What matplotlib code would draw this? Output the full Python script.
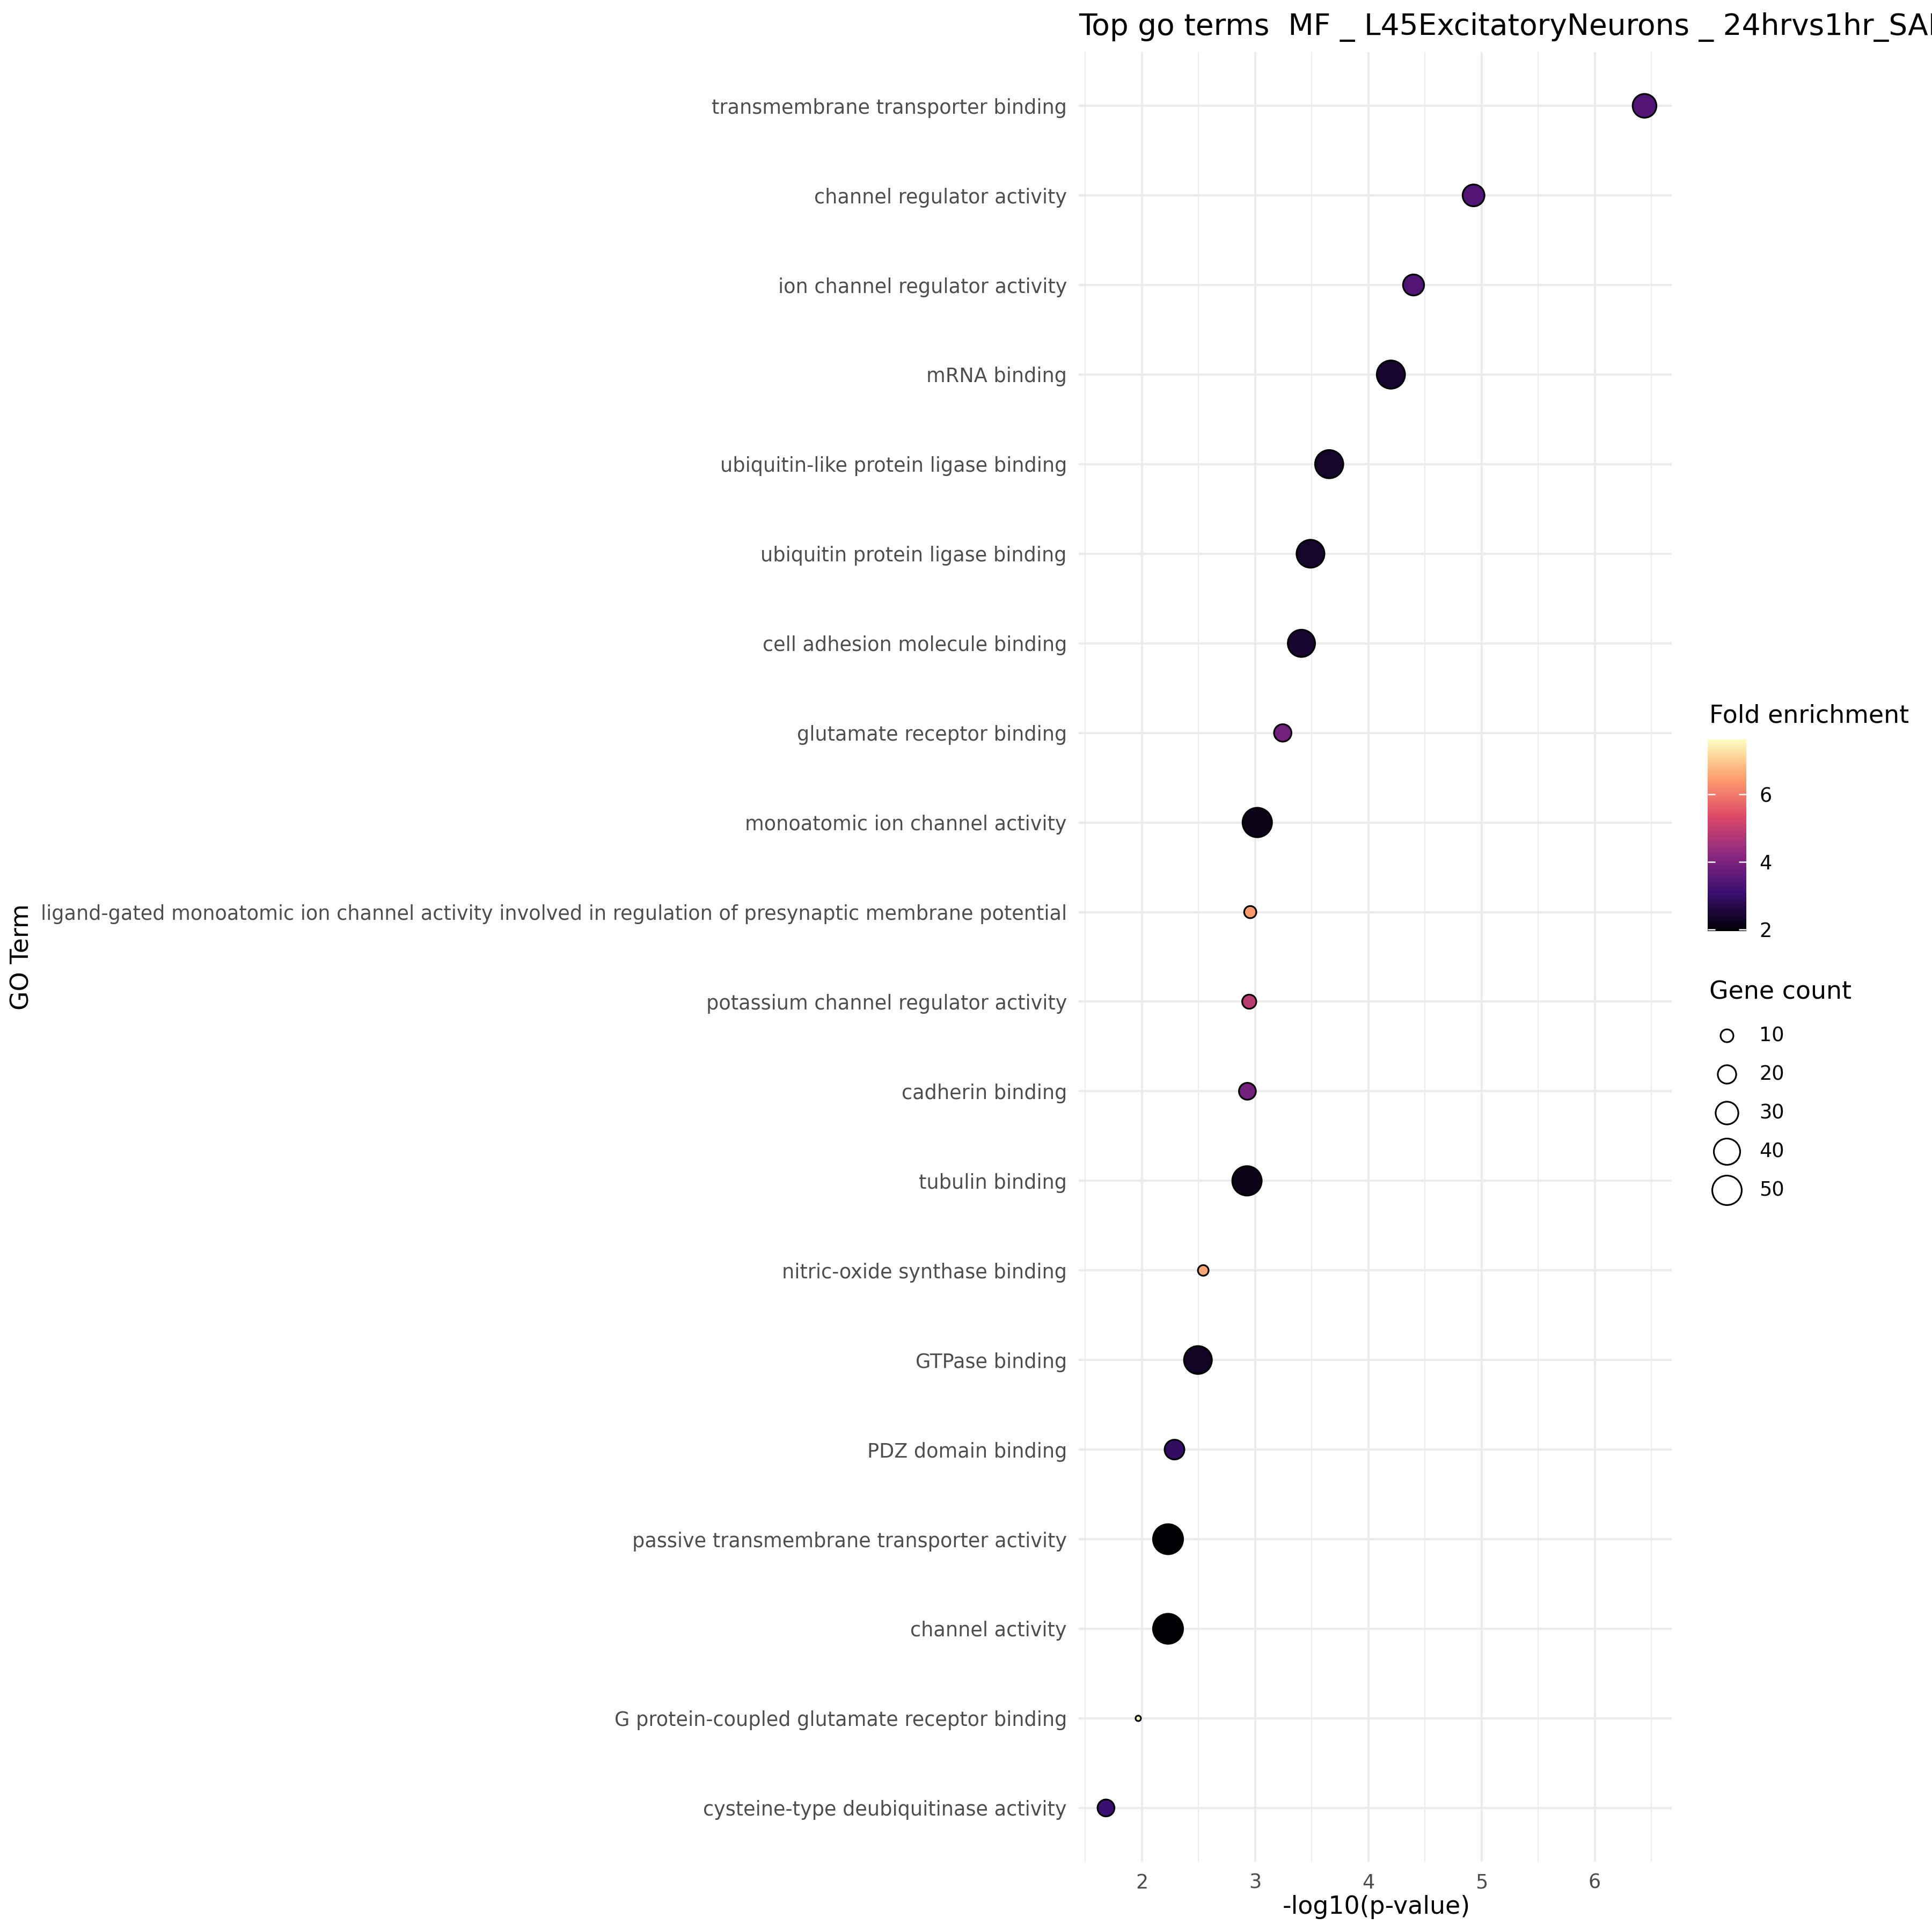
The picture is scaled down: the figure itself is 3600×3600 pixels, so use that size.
import numpy as np
import matplotlib
matplotlib.use("Agg")
from matplotlib import pyplot as plt
from matplotlib.colors import Normalize, LinearSegmentedColormap

# GO terms, top row first
terms = [
    "transmembrane transporter binding",
    "channel regulator activity",
    "ion channel regulator activity",
    "mRNA binding",
    "ubiquitin-like protein ligase binding",
    "ubiquitin protein ligase binding",
    "cell adhesion molecule binding",
    "glutamate receptor binding",
    "monoatomic ion channel activity",
    "ligand-gated monoatomic ion channel activity involved in regulation of presynaptic membrane potential",
    "potassium channel regulator activity",
    "cadherin binding",
    "tubulin binding",
    "nitric-oxide synthase binding",
    "GTPase binding",
    "PDZ domain binding",
    "passive transmembrane transporter activity",
    "channel activity",
    "G protein-coupled glutamate receptor binding",
    "cysteine-type deubiquitinase activity",
]
neg_log_p = [6.44, 4.93, 4.40, 4.20, 3.655, 3.49, 3.41, 3.245, 3.02, 2.958,
             2.949, 2.933, 2.929, 2.543, 2.496, 2.289, 2.232, 2.232, 1.969, 1.684]
fold_enrichment = [3.41, 3.41, 3.41, 2.43, 2.38, 2.38, 2.43, 3.84, 2.18, 6.42,
                   4.87, 3.84, 2.19, 6.57, 2.30, 2.93, 1.95, 1.97, 7.62, 3.08]
gene_count = [33, 28, 26, 46, 46, 45, 43, 18, 50, 9,
              12, 17, 50, 7, 45, 23, 52, 52, 2, 17]

size_breaks = [10, 20, 30, 40, 50]
cbar_ticks = [2, 4, 6]
x_ticks = [2, 3, 4, 5, 6]

# ggplot's viridis "magma" scale is a 6-colour gradient
magma6 = ["#000004", "#3B0F70", "#8C2981", "#DE4968", "#FE9F6D", "#FCFDBF"]

title = "Top go terms  MF _ L45ExcitatoryNeurons _ 24hrvs1hr_SAL"

W = 3600.0
DPI = 300
PX_PER_PT = DPI / 72.0
EDGE_PT = 0.75


def marker_area(count):
    d_px = 7.93 * np.sqrt(np.asarray(count, dtype=float)) + 1.93
    d_pt = (d_px - EDGE_PT * PX_PER_PT) / PX_PER_PT
    return d_pt ** 2


def fx(px):
    return px / W


def fy(px):
    return 1 - px / W


fig = plt.figure(figsize=(12, 12), dpi=DPI)
fig.patch.set_facecolor("white")

# panel
ax = fig.add_axes([fx(2010), fy(3469), fx(1105), 3372 / W])
for s in ax.spines.values():
    s.set_visible(False)

n = len(terms)
ypos = np.arange(n)[::-1]
norm = Normalize(vmin=1.95, vmax=7.62)
cmap = LinearSegmentedColormap.from_list("magma6", magma6, N=256)

sc = ax.scatter(neg_log_p, ypos, s=marker_area(gene_count), c=fold_enrichment,
                cmap=cmap, norm=norm, edgecolors="black", linewidths=EDGE_PT,
                zorder=3)

ax.set_xlim(1.443, 6.68)
ax.set_ylim(-0.6, n - 1 + 0.6)
ax.set_xticks(x_ticks)
ax.set_xticks(np.arange(1.5, 7.0, 1.0), minor=True)
ax.set_yticks(ypos)
ax.set_yticklabels(terms)
ax.grid(True, which="major", color="#ebebeb", linewidth=1.0, zorder=0)
ax.grid(True, which="minor", axis="x", color="#ebebeb", linewidth=0.5, zorder=0)
ax.set_axisbelow(True)
ax.tick_params(axis="both", which="both", length=0)
ax.tick_params(axis="y", pad=5.3, labelsize=8.8, labelcolor="#4d4d4d")
ax.tick_params(axis="x", pad=5.0, labelsize=8.8, labelcolor="#4d4d4d")

fig.text(fx(2010), fy(50), title, fontsize=13.2, ha="left", va="center")
fig.text(fx(2565), fy(3553), "-log10(p-value)", fontsize=11, ha="center", va="center")
fig.text(fx(41), fy(1783), "GO Term", fontsize=11, ha="center", va="center",
         rotation=90)

# colour legend
fig.text(fx(3185), fy(1334), "Fold enrichment", fontsize=11, ha="left", va="center")
cax = fig.add_axes([fx(3182), fy(1735), fx(72), 357 / W])
cb = fig.colorbar(sc, cax=cax, ticks=cbar_ticks)
cb.outline.set_visible(False)
cax.yaxis.set_ticks_position("both")
cax.tick_params(direction="in", length=3.4, width=0.6, color="white",
                labelleft=False, labelright=True, labelsize=8.8, pad=5.8)

# size legend
fig.text(fx(3185), fy(1849), "Gene count", fontsize=11, ha="left", va="center")
lax = fig.add_axes([0, 0, 1, 1], facecolor="none")
lax.set_xlim(0, W)
lax.set_ylim(W, 0)
lax.axis("off")
leg_y = 1930 + 72 * np.arange(len(size_breaks))
lax.scatter(np.full(len(size_breaks), 3218), leg_y, s=marker_area(size_breaks),
            facecolors="none", edgecolors="black", linewidths=EDGE_PT)
for yy, b in zip(leg_y, size_breaks):
    lax.text(3278, yy, str(b), fontsize=8.8, ha="left", va="center")

fig.savefig("out.png", dpi=DPI)
